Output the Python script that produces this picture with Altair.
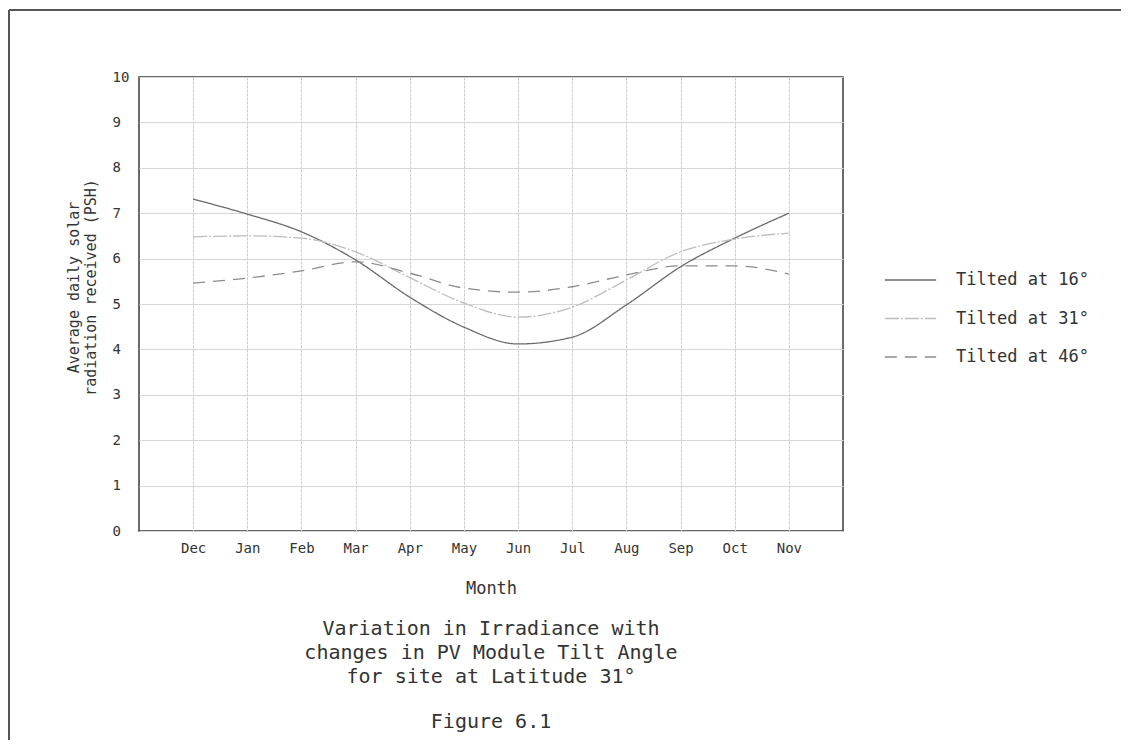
import altair as alt
import pandas as pd

months = ["Dec", "Jan", "Feb", "Mar", "Apr", "May", "Jun", "Jul", "Aug", "Sep", "Oct", "Nov"]
month_pos = list(range(12))
series_names = ["Tilted at 16°", "Tilted at 31°", "Tilted at 46°"]
tilt16 = [7.31, 6.98, 6.59, 5.97, 5.15, 4.49, 4.12, 4.27, 4.98, 5.82, 6.45, 7.00]
tilt31 = [6.48, 6.50, 6.45, 6.15, 5.58, 5.02, 4.71, 4.93, 5.53, 6.15, 6.43, 6.56]
tilt46 = [5.46, 5.57, 5.73, 5.93, 5.68, 5.35, 5.26, 5.38, 5.64, 5.84, 5.84, 5.66]
y_ticks = list(range(0, 11))
caption_lines = ["Variation in Irradiance with", "changes in PV Module Tilt Angle", "for site at Latitude 31°"]
figure_label = "Figure 6.1"

rows = []
for name, vals in zip(series_names, [tilt16, tilt31, tilt46]):
    for p, m, v in zip(month_pos, months, vals):
        rows.append({"series": name, "pos": p, "month": m, "value": v})
df = pd.DataFrame(rows)

FONT = "DejaVu Sans Mono"
TXT = "#333333"

label_expr = "[" + ",".join(f"'{m}'" for m in months) + "][datum.value]"

x = alt.X(
    "pos:Q",
    scale=alt.Scale(domain=[-1, 12], nice=False, zero=False),
    axis=alt.Axis(
        values=month_pos, labelExpr=label_expr, title="Month",
        domain=False, ticks=False, tickSize=0, labelPadding=10,
        labelFont=FONT, labelFontSize=14, labelColor=TXT,
        titleFont=FONT, titleFontSize=17, titleFontWeight="normal", titleColor=TXT,
        titleY=57, titleBaseline="middle",
        grid=True, gridColor="#cccccc", gridDash=[3, 1], gridWidth=1,
    ),
)
y = alt.Y(
    "value:Q",
    scale=alt.Scale(domain=[0, 10], nice=False),
    axis=alt.Axis(
        values=y_ticks, title=["Average daily solar", "radiation received (PSH)"],
        domain=False, ticks=False, tickSize=0, labelPadding=27, labelAlign="left",
        labelFont=FONT, labelFontSize=14, labelColor=TXT,
        titleFont=FONT, titleFontSize=15, titleFontWeight="normal", titleColor=TXT,
        titleX=-66, titleY=210, titleBaseline="middle", titleAngle=270,
        grid=True, gridColor="#d6d6d6", gridWidth=1,
    ),
)

legend = alt.Legend(
    orient="none", legendX=751.5, legendY=183, title=None,
    symbolType="M-1.35,0H1.35", symbolSize=1444, symbolStrokeWidth=1.3,
    labelFont=FONT, labelFontSize=17, labelColor=TXT, labelOffset=25.5,
    rowPadding=10.5, padding=0, symbolOffset=0,
)

lines = alt.Chart(df).mark_line(interpolate="monotone", strokeWidth=1.3).encode(
    x=x,
    y=y,
    color=alt.Color("series:N", scale=alt.Scale(domain=series_names, range=["#6a6a6a", "#bdbdbd", "#8c8c8c"]), legend=legend),
    strokeDash=alt.StrokeDash("series:N", scale=alt.Scale(domain=series_names, range=[[1, 0], [14, 2, 2, 2], [12, 8]]), legend=legend),
)

one = pd.DataFrame({"k": [0]})
frame_top = alt.Chart(one).mark_rule(color="#555555", strokeWidth=2).encode(
    x=alt.value(-130), x2=alt.value(982), y=alt.value(-67)
)
frame_left = alt.Chart(one).mark_rule(color="#555555", strokeWidth=2).encode(
    x=alt.value(-130), y=alt.value(-67), y2=alt.value(663)
)

text_layers = []
for i, line in enumerate(caption_lines):
    text_layers.append(
        alt.Chart(one).mark_text(font=FONT, fontSize=20, color=TXT, baseline="middle", align="center").encode(
            x=alt.value(352), y=alt.value(552 + 24 * i), text=alt.value(line)
        )
    )
text_layers.append(
    alt.Chart(one).mark_text(font=FONT, fontSize=20, color=TXT, baseline="middle", align="center").encode(
        x=alt.value(352), y=alt.value(645), text=alt.value(figure_label)
    )
)

chart = alt.layer(lines, frame_top, frame_left, *text_layers).properties(
    width=704,
    height=454,
    autosize=alt.AutoSizeParams(type="none"),
    padding={"left": 131, "top": 69, "right": 278, "bottom": 209},
).configure(
    background="white"
).configure_view(
    stroke="#3a3a3a", strokeWidth=1.5
)

chart.save("out.html", embed_options={"renderer": "svg", "actions": False})
